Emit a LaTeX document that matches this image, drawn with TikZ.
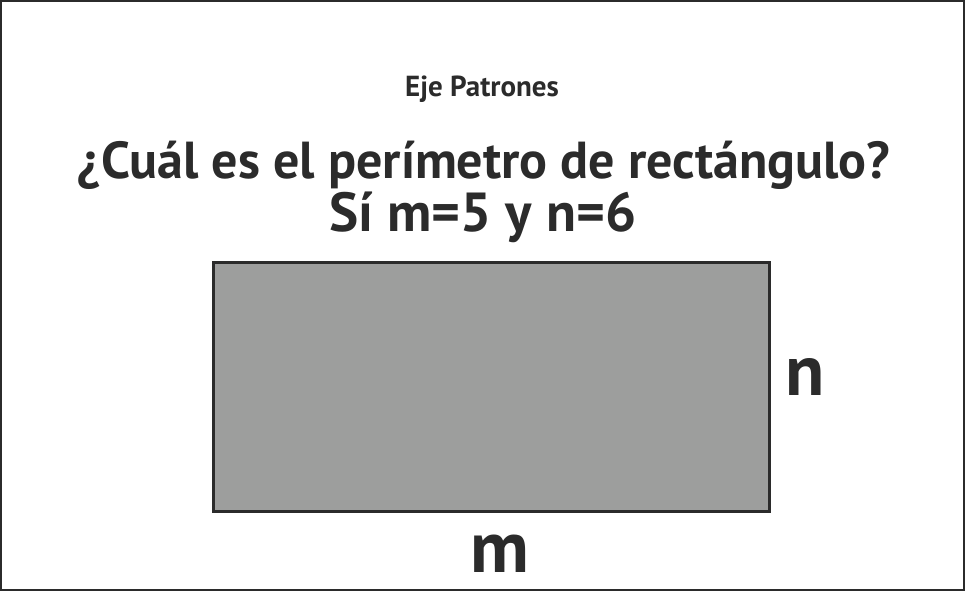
\documentclass[tikz,border=0pt]{standalone}
\usepackage{fontspec}
\setmainfont{PT Sans}
\usetikzlibrary{positioning}
\definecolor{ink}{HTML}{2B2B2B}
\definecolor{shade}{HTML}{9D9E9D}

\begin{document}
\begin{tikzpicture}[x=1pt, y=-1pt,
    txt/.style={text=ink, anchor=base, inner sep=0pt}]
      \useasboundingbox (0,0) rectangle (965,591);
      \draw[ink, line width=2pt] (1,1) rectangle (964,590);
      \node[txt, font=\bfseries\fontsize{29}{32}\selectfont] (eje) at (482,97) {Eje Patrones};
      \node[txt, font=\bfseries\fontsize{52}{58}\selectfont] (preg) at (484,178) {¿Cuál es el perímetro de rectángulo?};
      \node[txt, font=\bfseries\fontsize{55}{60}\selectfont] (dato) at (483,231) {Sí m=5 y n=6};
      \draw[ink, fill=shade, line width=3pt] (213,262) coordinate (rect-nw) rectangle (769,511) coordinate (rect-se);
      \node[txt, font=\bfseries\fontsize{72}{78}\selectfont] (n) at (805,395) {n};
      \node[txt, font=\bfseries\fontsize{73}{78}\selectfont] (m) at (500,572) {m};
    \end{tikzpicture}
\end{document}
